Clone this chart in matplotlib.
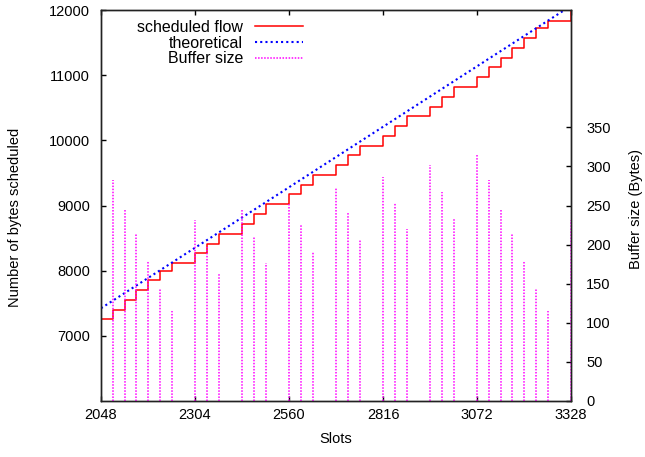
import matplotlib
matplotlib.use("Agg")
import matplotlib.pyplot as plt

plt.rcParams['font.family'] = ['Liberation Sans', 'DejaVu Sans']

# slot boundaries, one every 32 slots from 2048 to 3328
slots = [2048 + 32 * k for k in range(41)]

# cumulative bytes scheduled at each boundary (step held until next one)
sched_bytes = [7254, 7401, 7550, 7703, 7852, 8000, 8113, 8113, 8267, 8414,
               8567, 8567, 8716, 8865, 9018, 9018, 9172, 9319, 9473, 9473,
               9622, 9775, 9918, 9918, 10071, 10220, 10369, 10369, 10516, 10670,
               10818, 10818, 10967, 11121, 11268, 11421, 11570, 11719, 11836, 11836,
               12000]

# buffer occupancy at each boundary (0 = nothing drawn)
buffer_bytes = [316, 282, 246, 214, 179, 144, 115, 0, 231, 197,
                163, 0, 246, 211, 177, 0, 252, 226, 191, 0,
                273, 241, 206, 0, 287, 253, 220, 0, 302, 267,
                234, 0, 316, 282, 246, 214, 179, 144, 115, 0,
                232]

# theoretical flow end points
theo_slots = [2048, 3328]
theo_bytes = [7423, 12064]

xticks = [2048, 2304, 2560, 2816, 3072, 3328]
yticks = [7000, 8000, 9000, 10000, 11000, 12000]
y2ticks = [0, 50, 100, 150, 200, 250, 300, 350]

FS = 10.5

fig = plt.figure(figsize=(6.45, 4.57), dpi=100)
ax = fig.add_axes([101 / 645, 56 / 457, 470 / 645, 391 / 457])
ax2 = ax.twinx()

l1, = ax.step(slots, sched_bytes, where='post', color='#ff0000', lw=1.1,
              label='scheduled flow')
l2, = ax.plot(theo_slots, theo_bytes, color='#0000ff', lw=1.5,
              linestyle=(0, (1, 1.5)), label='theoretical')

imp_x = [s for s, b in zip(slots, buffer_bytes) if b > 0]
imp_y = [b for b in buffer_bytes if b > 0]
ax2.vlines(imp_x, 0, imp_y, color='#ff00ff', lw=1.1, linestyle=(0, (1, 1)))
l3, = ax2.plot([], [], color='#ff00ff', lw=1.1, linestyle=(0, (1, 1)),
               label='Buffer size')

ax.set_xlim(2048, 3328)
ax.set_ylim(6000, 12000)
ax2.set_ylim(0, 500)

ax.set_xticks(xticks)
ax.set_yticks(yticks)
ax2.set_yticks(y2ticks)

for a in (ax, ax2):
    for sp in a.spines.values():
        sp.set_linewidth(1.0)
        sp.set_color('#222222')

ax.tick_params(axis='x', direction='in', top=True, length=3.6, width=1.0,
               labelsize=FS, pad=5)
ax.tick_params(axis='y', direction='in', right=False, length=3.6, width=1.0,
               labelsize=FS, pad=8)
ax2.tick_params(axis='y', direction='in', length=3.6, width=1.0,
                labelsize=FS, pad=11)

ax.set_xlabel('Slots', fontsize=FS)
ax.set_ylabel('Number of bytes scheduled', fontsize=FS)
ax2.set_ylabel('Buffer size (Bytes)', fontsize=FS)
ax.xaxis.set_label_coords(0.5, -0.08)
ax.yaxis.set_label_coords(-0.168, 0.47)
ax2.yaxis.set_label_coords(1.124, 0.49)

ax2.legend(handles=[l1, l2, l3], loc='upper right', bbox_to_anchor=(0.43, 0.975),
           frameon=False, markerfirst=False, fontsize=11.5, borderpad=0,
           borderaxespad=0, handlelength=3.0, handletextpad=0.75,
           labelspacing=0.05)

fig.savefig('out.png', dpi=100)
